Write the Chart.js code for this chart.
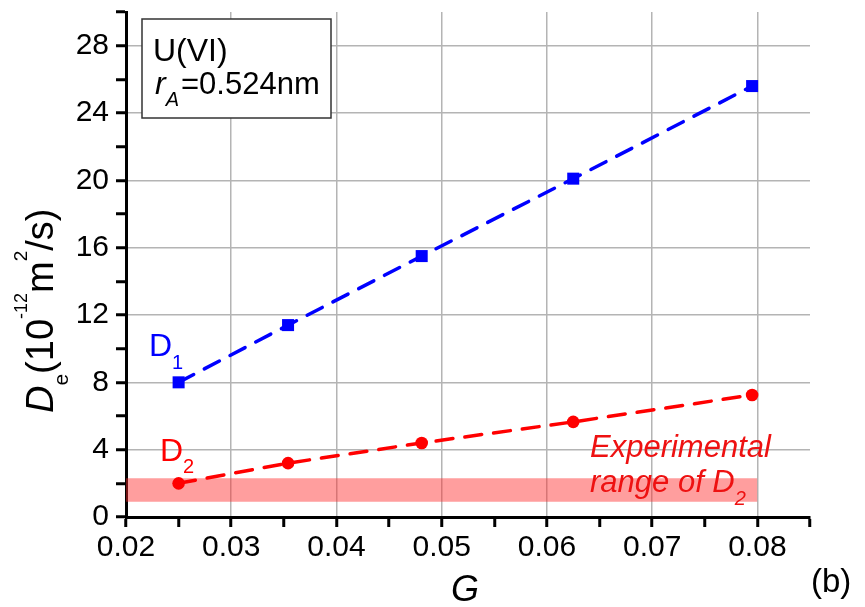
<!DOCTYPE html>
<html>
<head>
<meta charset="utf-8">
<script src="https://cdn.jsdelivr.net/npm/chart.js@4.4.1/dist/chart.umd.min.js"></script>
<style>
  body { margin: 0; background: #fff; }
  #wrap { width: 865px; height: 607px; }
</style>
</head>
<body>
<div id="wrap"><canvas id="diffChart" width="865" height="607"></canvas></div>
<script>
// G values and diffusion coefficients (10^-12 m^2/s)
var gValues = [0.025, 0.0354, 0.0481, 0.0625, 0.0795];
var d1Values = [8.0, 11.4, 15.5, 20.1, 25.6];
var d2Values = [2.0, 3.2, 4.4, 5.65, 7.25];

// experimental range of D2
var bandX = [0.02, 0.08];
var bandLow = 0.9;
var bandHigh = 2.3;

// axis ranges and ticks
var xMin = 0.02, xMax = 0.085, xStep = 0.005;
var yMin = 0, yMax = 30, yStep = 2;

var FONT = '"Liberation Sans", Arial, sans-serif';

function pts(xs, ys) {
    return xs.map(function(x, i) { return { x: x, y: ys[i] }; });
}

function isMajorX(v) { return Math.round(v * 1000) % 10 === 0; }
function isMajorY(v) { return Math.round(v) % 4 === 0; }

// draws a row of text pieces, each with its own font and baseline shift
function drawRuns(ctx, x, y, runs, color) {
    ctx.fillStyle = color;
    ctx.textBaseline = 'alphabetic';
    ctx.textAlign = 'left';
    runs.forEach(function(r) {
        ctx.font = r.font;
        ctx.fillText(r.text, x + (r.dx || 0), y + (r.dy || 0));
        x += ctx.measureText(r.text).width + (r.dx || 0);
    });
}

var labelsPlugin = {
    id: 'labels',
    afterDatasetsDraw: function(chart) {
        var ctx = chart.ctx;
        ctx.save();

        // info box
        ctx.fillStyle = '#fff';
        ctx.fillRect(142, 19, 189, 99);
        ctx.strokeStyle = '#333';
        ctx.lineWidth = 1.5;
        ctx.strokeRect(142, 19, 189, 99);
        drawRuns(ctx, 153, 61, [{ text: 'U(VI)', font: '32px ' + FONT }], '#000');
        drawRuns(ctx, 155, 94, [
            { text: 'r', font: 'italic 32px ' + FONT },
            { text: 'A', font: 'italic 20px ' + FONT, dy: 12 },
            { text: '=0.524nm', font: '31px ' + FONT, dx: 2 }
        ], '#000');

        // series labels
        drawRuns(ctx, 149, 356, [
            { text: 'D', font: '32px ' + FONT },
            { text: '1', font: '20px ' + FONT, dy: 13 }
        ], '#0000ff');
        drawRuns(ctx, 160, 461, [
            { text: 'D', font: '32px ' + FONT },
            { text: '2', font: '20px ' + FONT, dy: 12 }
        ], '#ff0000');

        // band caption
        drawRuns(ctx, 590, 457, [{ text: 'Experimental', font: 'italic 31px ' + FONT }], '#ee1111');
        drawRuns(ctx, 590, 492, [
            { text: 'range of D', font: 'italic 31px ' + FONT },
            { text: '2', font: 'italic 20px ' + FONT, dy: 13 }
        ], '#ee1111');

        // axis titles
        drawRuns(ctx, 451, 601, [{ text: 'G', font: 'italic 36px ' + FONT }], '#000');
        drawRuns(ctx, 811, 592, [{ text: '(b)', font: '33px ' + FONT }], '#000');

        ctx.translate(53, 413);
        ctx.rotate(-Math.PI / 2);
        drawRuns(ctx, 0, 0, [
            { text: 'D', font: 'italic 38px ' + FONT },
            { text: 'e', font: '21px ' + FONT, dy: 15 },
            { text: '(10', font: '38px ' + FONT },
            { text: '-12', font: '18px ' + FONT, dy: -26 },
            { text: 'm', font: '38px ' + FONT },
            { text: '2', font: '19px ' + FONT, dy: -26 },
            { text: '/s)', font: '38px ' + FONT }
        ], '#000');

        ctx.restore();
    }
};

var ctx = document.getElementById('diffChart').getContext('2d');

var myChart = new Chart(ctx, {
    type: 'line',
    data: {
        datasets: [{
            label: 'D1',
            data: pts(gValues, d1Values),
            borderColor: '#0000ff',
            backgroundColor: '#0000ff',
            borderWidth: 3.5,
            borderDash: [17, 12],
            borderCapStyle: 'round',
            pointStyle: 'rect',
            pointRadius: 8.5,
            pointBorderWidth: 0,
            fill: false,
            order: 1
        }, {
            label: 'D2',
            data: pts(gValues, d2Values),
            borderColor: '#ff0000',
            backgroundColor: '#ff0000',
            borderWidth: 3.5,
            borderDash: [17, 12],
            borderCapStyle: 'round',
            pointStyle: 'circle',
            pointRadius: 6.3,
            pointBorderWidth: 0,
            fill: false,
            order: 2
        }, {
            label: 'Experimental range',
            data: pts(bandX, [bandHigh, bandHigh]),
            borderWidth: 0,
            borderColor: 'rgba(0,0,0,0)',
            backgroundColor: 'rgba(255,40,40,0.45)',
            pointRadius: 0,
            fill: { value: bandLow },
            order: 3
        }]
    },
    options: {
        responsive: false,
        animation: false,
        layout: { padding: { left: 0, top: 12, right: 55, bottom: 0 } },
        plugins: {
            legend: { display: false },
            tooltip: { enabled: false }
        },
        scales: {
            x: {
                type: 'linear',
                min: xMin,
                max: xMax,
                ticks: {
                    stepSize: xStep,
                    autoSkip: false,
                    maxRotation: 0,
                    padding: 3,
                    color: '#000',
                    font: { family: FONT, size: 30 },
                    callback: function(v) { return isMajorX(v) ? v.toFixed(2) : ''; }
                },
                grid: {
                    color: function(c) {
                        var v = c.tick ? c.tick.value : null;
                        return (v !== null && isMajorX(v) && v > xMin + 1e-9) ? '#b4b4b4' : 'rgba(0,0,0,0)';
                    },
                    lineWidth: 1.5,
                    tickColor: '#000',
                    tickWidth: 3,
                    tickLength: 10
                },
                border: { color: '#000', width: 3 },
                afterFit: function(s) {
                    s.height = 90;
                    s.paddingLeft = 0;
                    s.paddingRight = 0;
                }
            },
            y: {
                min: yMin,
                max: yMax,
                ticks: {
                    stepSize: yStep,
                    autoSkip: false,
                    padding: 7,
                    color: '#000',
                    font: { family: FONT, size: 30 },
                    callback: function(v) { return isMajorY(v) ? String(v) : ''; }
                },
                grid: {
                    color: function(c) {
                        var v = c.tick ? c.tick.value : null;
                        return (v !== null && isMajorY(v) && v > yMin) ? '#b4b4b4' : 'rgba(0,0,0,0)';
                    },
                    lineWidth: 1.5,
                    tickColor: '#000',
                    tickWidth: 3,
                    tickLength: 10
                },
                border: { color: '#000', width: 3 },
                afterFit: function(s) {
                    s.width = 126;
                    s.paddingTop = 0;
                    s.paddingBottom = 0;
                }
            }
        }
    },
    plugins: [labelsPlugin]
});
</script>
</body>
</html>
